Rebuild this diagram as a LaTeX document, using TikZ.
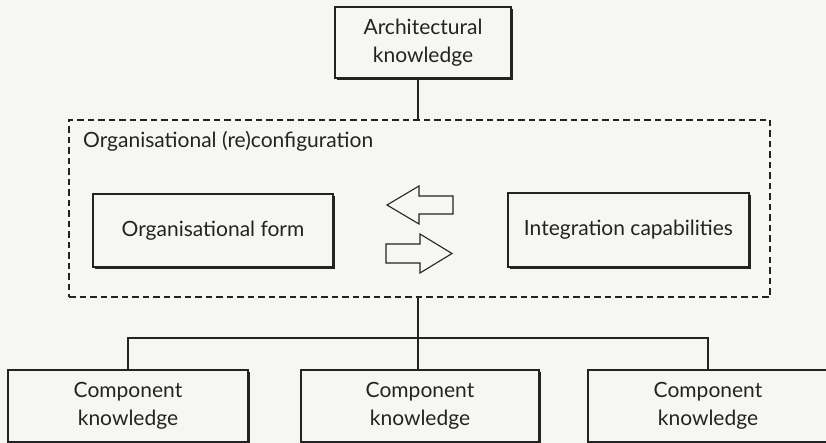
\documentclass[tikz,border=0pt]{standalone}
\usepackage{fontspec}
\setmainfont{Lato}
\usetikzlibrary{shadows}
\definecolor{paper}{RGB}{246,246,242}
\definecolor{ink}{RGB}{35,35,35}
\begin{document}
\begin{tikzpicture}[x=1pt,y=-1pt,
  box/.style={draw=ink, line width=1.3pt, fill=paper, text=ink,
    font=\fontsize{21}{28}\selectfont, align=center, inner sep=0pt,
    drop shadow={shadow xshift=2.2pt, shadow yshift=-2.2pt, fill=ink, opacity=1}},
  cfgbox/.style={draw=ink, line width=1.3pt, dash pattern=on 6.5pt off 4pt, inner sep=0pt},
  conn/.style={draw=ink, line width=1.3pt},
  blockarrow/.style={draw=ink, line width=1.1pt, fill=paper, line join=miter},
  title/.style={text=ink, font=\fontsize{21}{24}\selectfont, inner sep=0pt}]
\fill[paper] (0,0) rectangle (826,443);
\useasboundingbox (0,0) rectangle (826,443);

\node[box, minimum width=176pt, minimum height=71pt] (arch) at (423,42.5) {Architectural\\knowledge};

\node[cfgbox, minimum width=701pt, minimum height=177pt] (cfg) at (419.5,208.5) {};
\node[title, anchor=base west] (cfgtitle) at (83,148) {Organisational (re)configuration};

\node[box, minimum width=240pt, minimum height=73pt] (form) at (213,230.5) {Organisational form};
\node[box, minimum width=241pt, minimum height=74pt] (integ) at (628.5,230) {Integration capabilities};

\draw[blockarrow] (387,205) -- (419,186) -- (419,196) -- (453,196) -- (453,214) -- (419,214) -- (419,224) -- cycle;
\draw[blockarrow] (452,253.5) -- (420,234) -- (420,244) -- (386,244) -- (386,263) -- (420,263) -- (420,273) -- cycle;

\node[box, minimum width=240pt, minimum height=72pt] (comp1) at (128,406) {Component\\knowledge};
\node[box, minimum width=238pt, minimum height=72pt] (comp2) at (420,406) {Component\\knowledge};
\node[box, minimum width=240pt, minimum height=72pt] (comp3) at (708,406) {Component\\knowledge};

\coordinate (c1) at (418,0);
\coordinate (hb) at (0,338);
\draw[conn] (arch.south -| c1) -- (cfg.north -| c1);
\draw[conn] (cfg.south -| c1) -- (comp2.north -| c1);
\draw[conn] (comp1.north) -- (comp1.north |- hb) -- (comp3.north |- hb) -- (comp3.north);
\end{tikzpicture}
\end{document}
